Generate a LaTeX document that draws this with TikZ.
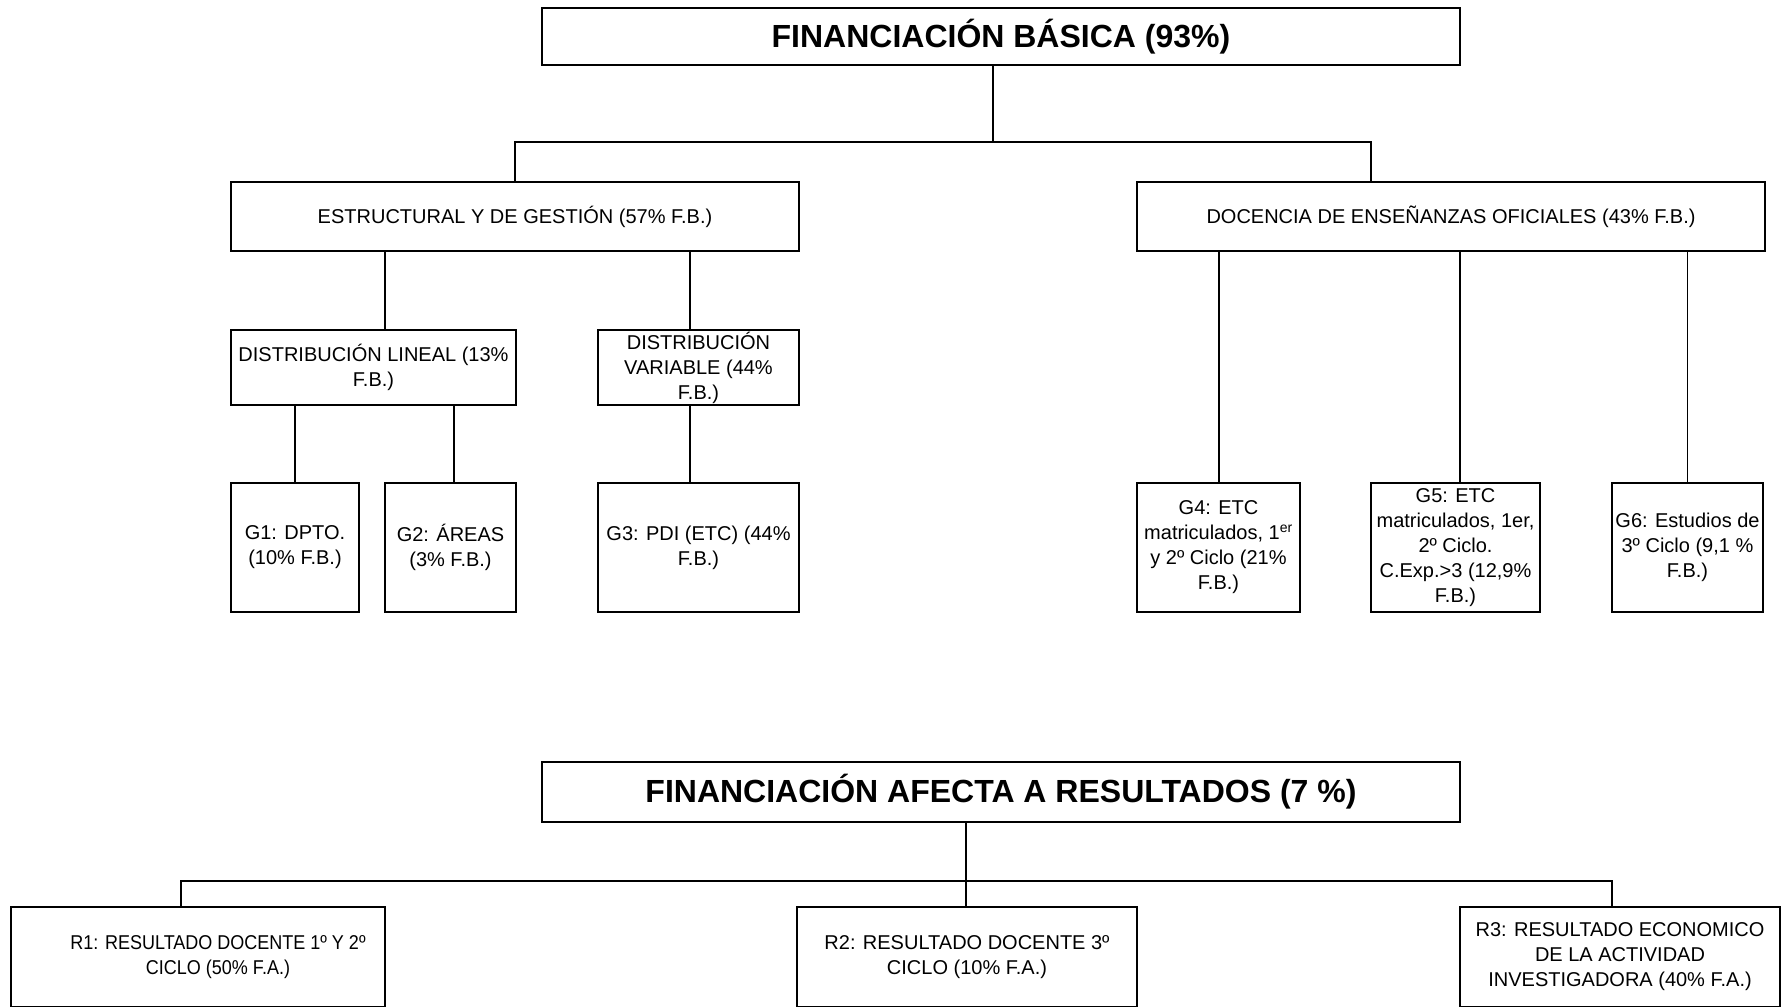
\documentclass[tikz,border=0pt]{standalone}
\usepackage{fontspec}
\setmainfont{Liberation Sans}
\newfontfamily\narrowfont[FakeStretch=0.9]{Liberation Sans}
\begin{document}
\begin{tikzpicture}[x=1pt,y=-1pt,
  box/.style={draw, line width=2.4pt, inner sep=2pt, align=center, font=\fontsize{20}{25}\selectfont},
  titlebox/.style={box, font=\fontsize{32}{38}\selectfont\bfseries},
  rbox/.style={box, font=\fontsize{20}{25}\selectfont},
  rnarrow/.style={box, font=\fontsize{20}{25}\selectfont\narrowfont},
  thk/.style={line width=2.4pt},
  thn/.style={line width=1.3pt},
  med/.style={line width=1.9pt}]
\useasboundingbox (0,0) rectangle (1787,1006);
% --- top section ---
\node[titlebox, minimum width=918pt, minimum height=57pt] (fb) at (1001,36.5) {FINANCIACIÓN BÁSICA (93\%)};
\node[box, minimum width=568pt, minimum height=69pt] (es) at (515,216.5) {ESTRUCTURAL Y DE GESTIÓN (57\% F.B.)};
\node[box, minimum width=628pt, minimum height=69pt] (doc) at (1451,216.5) {DOCENCIA DE ENSEÑANZAS OFICIALES (43\% F.B.)};
\node[box, minimum width=285pt, minimum height=75pt] (dl) at (373.5,367.5) {DISTRIBUCIÓN LINEAL (13\%\\F.B.)};
\node[box, minimum width=201pt, minimum height=75pt] (dv) at (698.5,367.5) {DISTRIBUCIÓN\\VARIABLE (44\%\\F.B.)};
\node[box, minimum width=128pt, minimum height=129pt] (g1) at (295,547.5) {G1: DPTO.\\(10\% F.B.)};
\node[box, minimum width=131pt, minimum height=129pt] (g2) at (450.5,547.5) {G2: ÁREAS\\(3\% F.B.)};
\node[box, minimum width=201pt, minimum height=129pt] (g3) at (698.5,547.5) {G3: PDI (ETC) (44\%\\F.B.)};
\node[box, minimum width=163pt, minimum height=129pt] (g4) at (1218.5,547.5) {G4: ETC\\matriculados, 1\textsuperscript{er}\\y 2º Ciclo (21\%\\F.B.)};
\node[box, minimum width=169pt, minimum height=129pt] (g5) at (1455.5,547.5) {G5: ETC\\matriculados, 1er,\\2º Ciclo.\\C.Exp.>3 (12,9\%\\F.B.)};
\node[box, minimum width=151pt, minimum height=129pt] (g6) at (1687.5,547.5) {G6: Estudios de\\3º Ciclo (9,1 \%\\F.B.)};
% connectors
\coordinate (j1) at (993,142);
\coordinate (jr) at (1371,142);
\draw[thk] (fb.south -| j1) -- (j1);
\draw[thk] (es.north) |- (j1) -- (jr) -- (jr |- doc.north);
\coordinate (e1) at (385,0);
\coordinate (e2) at (690,0);
\coordinate (d2) at (454,0);
\coordinate (j4) at (1219,0);
\coordinate (j5) at (1460,0);
\draw[thn] (es.south -| e1) -- (dl.north -| e1);
\draw[thn] (es.south -| e2) -- (dv.north -| e2);
\draw[thn] (dl.south -| g1.north) -- (g1.north);
\draw[thn] (dl.south -| d2) -- (g2.north -| d2);
\draw[thn] (dv.south -| e2) -- (g3.north -| e2);
\draw[thk] (doc.south -| j4) -- (g4.north -| j4);
\draw[thk] (doc.south -| j5) -- (g5.north -| j5);
\draw[thn] (doc.south -| g6.north) -- (g6.north);
% --- bottom section ---
\node[titlebox, minimum width=918pt, minimum height=60pt] (far) at (1001,792) {FINANCIACIÓN AFECTA A RESULTADOS (7 \%)};
\node[rnarrow, minimum width=374pt, minimum height=100pt] (r1) at (198,957) {\hspace*{40pt}R1: RESULTADO DOCENTE 1º Y 2º\\\hspace*{40pt}CICLO (50\% F.A.)};
\node[rbox, minimum width=340pt, minimum height=100pt] (r2) at (967,957) {R2: RESULTADO DOCENTE 3º\\CICLO (10\% F.A.)};
\node[rbox, minimum width=320pt, minimum height=100pt] (r3) at (1620,957) {R3: RESULTADO ECONOMICO\\DE LA ACTIVIDAD\\INVESTIGADORA (40\% F.A.)};
\coordinate (k0) at (181,881);
\coordinate (k1) at (966,881);
\coordinate (k3) at (1612,881);
\draw[med] (far.south -| k1) -- (r2.north -| k1);
\draw[med] (r1.north -| k0) -- (k0) -- (k3) -- (r3.north -| k3);
\end{tikzpicture}
\end{document}
